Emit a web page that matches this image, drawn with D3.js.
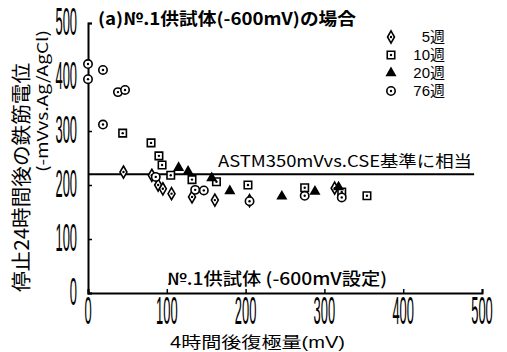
<!DOCTYPE html>
<html>
<head>
<meta charset="utf-8" />
<title>No.1供試体</title>
<script src="https://cdn.jsdelivr.net/npm/d3@7"></script>
<style>
  body { margin: 0; background: #fff; }
  svg { display: block; }
  .jp { font-family: "Noto Sans CJK JP", "DejaVu Sans", sans-serif; fill: #000; }
  .num { font-family: "Liberation Sans", "Noto Sans CJK JP", sans-serif; fill: #000; }
</style>
</head>
<body>
<script>
// ---- data ----
const xTicks = [0, 100, 200, 300, 400, 500];
const yTicks = [0, 100, 200, 300, 400, 500];
const seriesNames = ["5週", "10週", "20週", "76週"];

// [4時間後復極量 mV, 停止24時間後の鉄筋電位 -mV]
const week5 = [[45, 224], [81, 218], [89, 200], [95, 193], [106, 184], [132, 178],
               [161, 172], [205, 171], [313, 194]];
const week10 = [[44, 296], [80, 278], [90, 254], [94, 237], [105, 218], [132, 210],
                [163, 206], [203, 200], [275, 195], [322, 187], [354, 180]];
const week20 = [[115, 232], [127, 225], [157, 213], [180, 189], [246, 179],
                [288, 188], [318, 196]];
const week76 = [[0, 424], [0, 396], [19, 413], [38, 372], [47, 376], [19, 312],
                [86, 215], [136, 191], [147, 190], [205, 170], [275, 180], [322, 177]];

const astmLevel = 220;
const astmEnd = 490;

const W = 507, H = 352;
const svg = d3.select("body").append("svg").attr("width", W).attr("height", H);

const x = d3.scaleLinear().domain([0, 500]).range([88, 482]);
const y = d3.scaleLinear().domain([0, 500]).range([293, 23]);

// axes (ticks inward, labels drawn separately in a condensed face)
svg.append("g")
  .attr("transform", "translate(" + x(0) + ",0)")
  .call(d3.axisLeft(y).tickValues(yTicks).tickSize(-4).tickFormat(""))
  .call(g => g.select(".domain").attr("stroke-width", 2))
  .call(g => g.selectAll(".tick line").attr("stroke-width", 1.5));

svg.append("g")
  .attr("transform", "translate(0," + y(0) + ")")
  .call(d3.axisBottom(x).tickValues(xTicks).tickSize(-4).tickFormat(""))
  .call(g => g.select(".domain").attr("stroke-width", 2))
  .call(g => g.selectAll(".tick line").attr("stroke-width", 1.5));

const numSize = 38, squeeze = 0.34;
svg.append("g").selectAll("g")
  .data(yTicks).join("g")
  .attr("transform", d => "translate(77," + (y(d) - 2) + ") scale(" + squeeze + ",1)")
  .append("text").attr("class", "num")
  .attr("font-size", numSize).attr("text-anchor", "end").attr("dy", 14)
  .text(d => d);

svg.append("g").selectAll("g")
  .data(xTicks).join("g")
  .attr("transform", d => "translate(" + x(d) + ",310) scale(" + squeeze + ",1)")
  .append("text").attr("class", "num")
  .attr("font-size", numSize).attr("text-anchor", "middle").attr("dy", 14)
  .text(d => d);

// ASTM reference line
svg.append("line")
  .attr("x1", x(0)).attr("x2", x(astmEnd))
  .attr("y1", y(astmLevel)).attr("y2", y(astmLevel))
  .attr("stroke", "#000").attr("stroke-width", 2);

svg.append("text").attr("class", "jp")
  .attr("x", 218).attr("y", 167).attr("font-size", 16)
  .attr("textLength", 254).attr("lengthAdjust", "spacingAndGlyphs")
  .text("ASTM350mVvs.CSE基準に相当");

// markers
const sym = {
  "5週": d3.symbol(d3.symbolDiamond, 42)(),
  "10週": d3.symbol(d3.symbolSquare, 56)(),
  "20週": d3.symbol(d3.symbolTriangle, 30)(),
  "76週": d3.symbol(d3.symbolCircle, 55)()
};
function drawMark(sel, name) {
  sel.append("path")
    .attr("d", sym[name])
    .attr("fill", name === "20週" ? "#000" : "#fff")
    .attr("stroke", "#000").attr("stroke-width", 1.6);
  if (name !== "20週") {
    sel.append("circle").attr("r", 1.2).attr("fill", "#000");
  }
}

const allSeries = [week5, week10, week20, week76];
allSeries.forEach((pts, i) => {
  svg.append("g").selectAll("g")
    .data(pts).join("g")
    .attr("transform", d => "translate(" + x(d[0]) + "," + y(d[1]) + ")")
    .each(function () { drawMark(d3.select(this), seriesNames[i]); });
});

// legend
const legRows = [36, 54, 72, 90];
seriesNames.forEach((name, i) => {
  const g = svg.append("g").attr("transform", "translate(391," + (legRows[i] + 1) + ")");
  drawMark(g, name);
  svg.append("text").attr("class", "num")
    .attr("x", 445).attr("y", legRows[i] + 6).attr("font-size", 15)
    .attr("text-anchor", "end")
    .text(name);
});

// titles and labels
svg.append("text").attr("class", "jp")
  .attr("x", 98).attr("y", 25).attr("font-size", 17).attr("font-weight", 700)
  .attr("textLength", 258).attr("lengthAdjust", "spacingAndGlyphs")
  .text("(a)№.1供試体(-600mV)の場合");

svg.append("text").attr("class", "jp")
  .attr("x", 167).attr("y", 285).attr("font-size", 17).attr("font-weight", 500)
  .attr("textLength", 220).attr("lengthAdjust", "spacingAndGlyphs")
  .text("№.1供試体 (-600mV設定)");

svg.append("text").attr("class", "num")
  .attr("x", 170).attr("y", 348).attr("font-size", 16)
  .attr("textLength", 175).attr("lengthAdjust", "spacingAndGlyphs")
  .text("4時間後復極量(mV)");

svg.append("text").attr("class", "jp")
  .attr("transform", "translate(29,292) rotate(-90)")
  .attr("font-size", 20)
  .attr("textLength", 229).attr("lengthAdjust", "spacingAndGlyphs")
  .text("停止24時間後の鉄筋電位");

svg.append("text").attr("class", "jp")
  .attr("transform", "translate(48,172) rotate(-90)")
  .attr("font-size", 15)
  .attr("textLength", 142).attr("lengthAdjust", "spacingAndGlyphs")
  .text("(-mVvs.Ag/AgCl)");
</script>
</body>
</html>
